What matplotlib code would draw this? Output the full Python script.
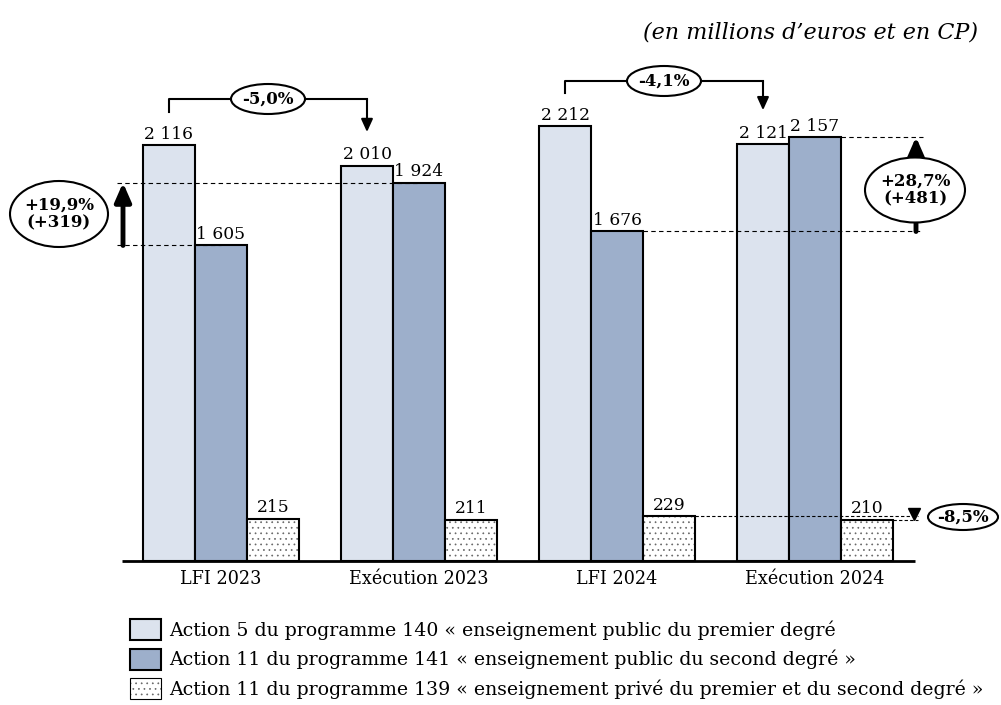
import matplotlib
matplotlib.use("Agg")
import matplotlib.pyplot as plt
from matplotlib.patches import Ellipse, Patch

# --- data -------------------------------------------------------------
categories = ["LFI 2023", "Exécution 2023", "LFI 2024", "Exécution 2024"]
prog140 = [2116, 2010, 2212, 2121]   # Action 5 du programme 140
prog141 = [1605, 1924, 1676, 2157]   # Action 11 du programme 141
prog139 = [215, 211, 229, 210]       # Action 11 du programme 139
series_labels = [
    "Action 5 du programme 140 « enseignement public du premier degré",
    "Action 11 du programme 141 « enseignement public du second degré »",
    "Action 11 du programme 139 « enseignement privé du premier et du second degré »",
]
unit_note = "(en millions d\u2019euros et en CP)"
var_140 = ["-5,0%", "-4,1%"]
var_141_2023 = "+19,9%\n(+319)"
var_141_2024 = "+28,7%\n(+481)"
var_139 = "-8,5%"

# --- style ------------------------------------------------------------
LIGHT = "#DCE3EE"
DARK = "#9DAFCB"
DOTS = "#666666"
plt.rcParams["font.family"] = ["DejaVu Serif"]
plt.rcParams["hatch.linewidth"] = 0.5
DASH = (0, (4, 3))

W, H = 1001, 705
fig = plt.figure(figsize=(W / 100, H / 100), dpi=100)
ax = fig.add_axes([0, 0, 1, 1])

# pixel-based frame: one category step = 198 px, 1 M€ = 0.1966 px
STEP, X0, BASE, SCALE = 198.0, 221.0, 561.0, 0.1966
ax.set_xlim(-X0 / STEP, (W - X0) / STEP)
ax.set_ylim(-(H - BASE) / SCALE, BASE / SCALE)
ax.axis("off")


def gx(p):
    return (p - X0) / STEP


def gy(p):
    return (BASE - p) / SCALE


bw = 52 / STEP
idx = list(range(len(categories)))
series = [prog140, prog141, prog139]
for k, vals in enumerate(series):
    xs = [i + (k - 1) * bw for i in idx]
    if k < 2:
        ax.bar(xs, vals, width=bw, color=[LIGHT, DARK][k], edgecolor="black",
               linewidth=1.5, zorder=3)
    else:
        # dotted fill in grey, outline in black
        ax.bar(xs, vals, width=bw, color="white", edgecolor=DOTS, hatch="...",
               linewidth=0, zorder=3)
        ax.bar(xs, vals, width=bw, fill=False, edgecolor="black",
               linewidth=1.5, zorder=3)
    for x, v in zip(xs, vals):
        lab = f"{v:,}".replace(",", " ")
        ax.text(x, v + 12, lab, ha="center", va="bottom", fontsize=12.3, zorder=4)

# baseline and category names
ax.plot([gx(122), gx(915)], [0, 0], color="black", lw=2, zorder=4,
        solid_capstyle="butt")
for i, c in zip(idx, categories):
    ax.text(i, gy(579), c, ha="center", va="center", fontsize=12.7)

# unit note
ax.text(gx(978), gy(33), unit_note, ha="right", va="center", fontsize=16,
        style="italic")


def oval(cx, cy, w, h, text, fs=12):
    e = Ellipse((gx(cx), gy(cy)), w / STEP, h / SCALE, facecolor="white",
                edgecolor="black", lw=1.5, zorder=6)
    ax.add_patch(e)
    ax.text(gx(cx), gy(cy), text, ha="center", va="center", fontsize=fs,
            fontweight="bold", zorder=7, linespacing=1.05)


def hline(x_from, x_to, y, dash=DASH):
    ax.plot([x_from, x_to], [y, y], color="black", lw=0.8, ls=dash, zorder=4)


def growth_arrow(x, y_from, y_to):
    ax.annotate("", xy=(x, y_to), xytext=(x, y_from),
                arrowprops=dict(arrowstyle="-|>,head_width=0.35,head_length=0.8",
                                color="black", lw=3.5, mutation_scale=14,
                                shrinkA=0, shrinkB=0), zorder=5)


# year-on-year brackets on programme 140 (LFI -> exécution)
for j, (lbl, top, ell_x) in enumerate([(var_140[0], 99, 268),
                                       (var_140[1], 81, 664)]):
    i0, i1 = 2 * j, 2 * j + 1
    xa, xb = i0 - bw, i1 - bw
    y_top = gy(top)
    ax.plot([xa, xa, xb], [prog140[i0] + 168, y_top, y_top], color="black",
            lw=1.5, zorder=5)
    ax.annotate("", xy=(xb, prog140[i1] + 172), xytext=(xb, y_top),
                arrowprops=dict(arrowstyle="-|>,head_width=0.25,head_length=0.55",
                                color="black", lw=1.5, mutation_scale=14,
                                shrinkA=0, shrinkB=0), zorder=5)
    oval(ell_x, top, 74, 30, lbl)

# programme 141 growth 2023: LFI vs exécution
hline(gx(117), 1, prog141[1])
hline(gx(117), 0, prog141[0])
growth_arrow(gx(123), prog141[0], prog141[1])
oval(59, 214, 98, 66, var_141_2023)

# programme 141 growth 2024: LFI vs exécution
hline(3 + bw / 2, gx(923), prog141[3])
hline(2 + bw / 2, gx(923), prog141[2])
growth_arrow(gx(916), prog141[2], prog141[3])
oval(915, 190, 100, 65, var_141_2024)

# programme 139 change 2024
hline(2 + 1.5 * bw, gx(918), prog139[2], (0, (3, 2)))
hline(3 + 1.5 * bw, gx(918), prog139[3], (0, (3, 2)))
ax.plot([gx(914)], [prog139[2] + 12], marker="v", color="black", markersize=8,
        zorder=5)
oval(963, 517, 70, 26, var_139)

# legend
LFS = 13.6
fpx = LFS * 100 / 72
handles = [Patch(facecolor=LIGHT, edgecolor="black", lw=1.5),
           Patch(facecolor=DARK, edgecolor="black", lw=1.5),
           (Patch(facecolor="white", edgecolor=DOTS, lw=0, hatch="..."),
            Patch(fill=False, edgecolor="black", lw=0.8))]
leg = fig.legend(handles, series_labels, loc="upper left",
                 bbox_to_anchor=(130 / W, 1 - 619 / H), frameon=False,
                 fontsize=LFS, handlelength=31 / fpx,
                 handleheight=22 / (0.87 * fpx),
                 handletextpad=8 / fpx, labelspacing=8.5 / fpx, borderaxespad=0,
                 borderpad=0)

fig.savefig("out.png", dpi=100)
